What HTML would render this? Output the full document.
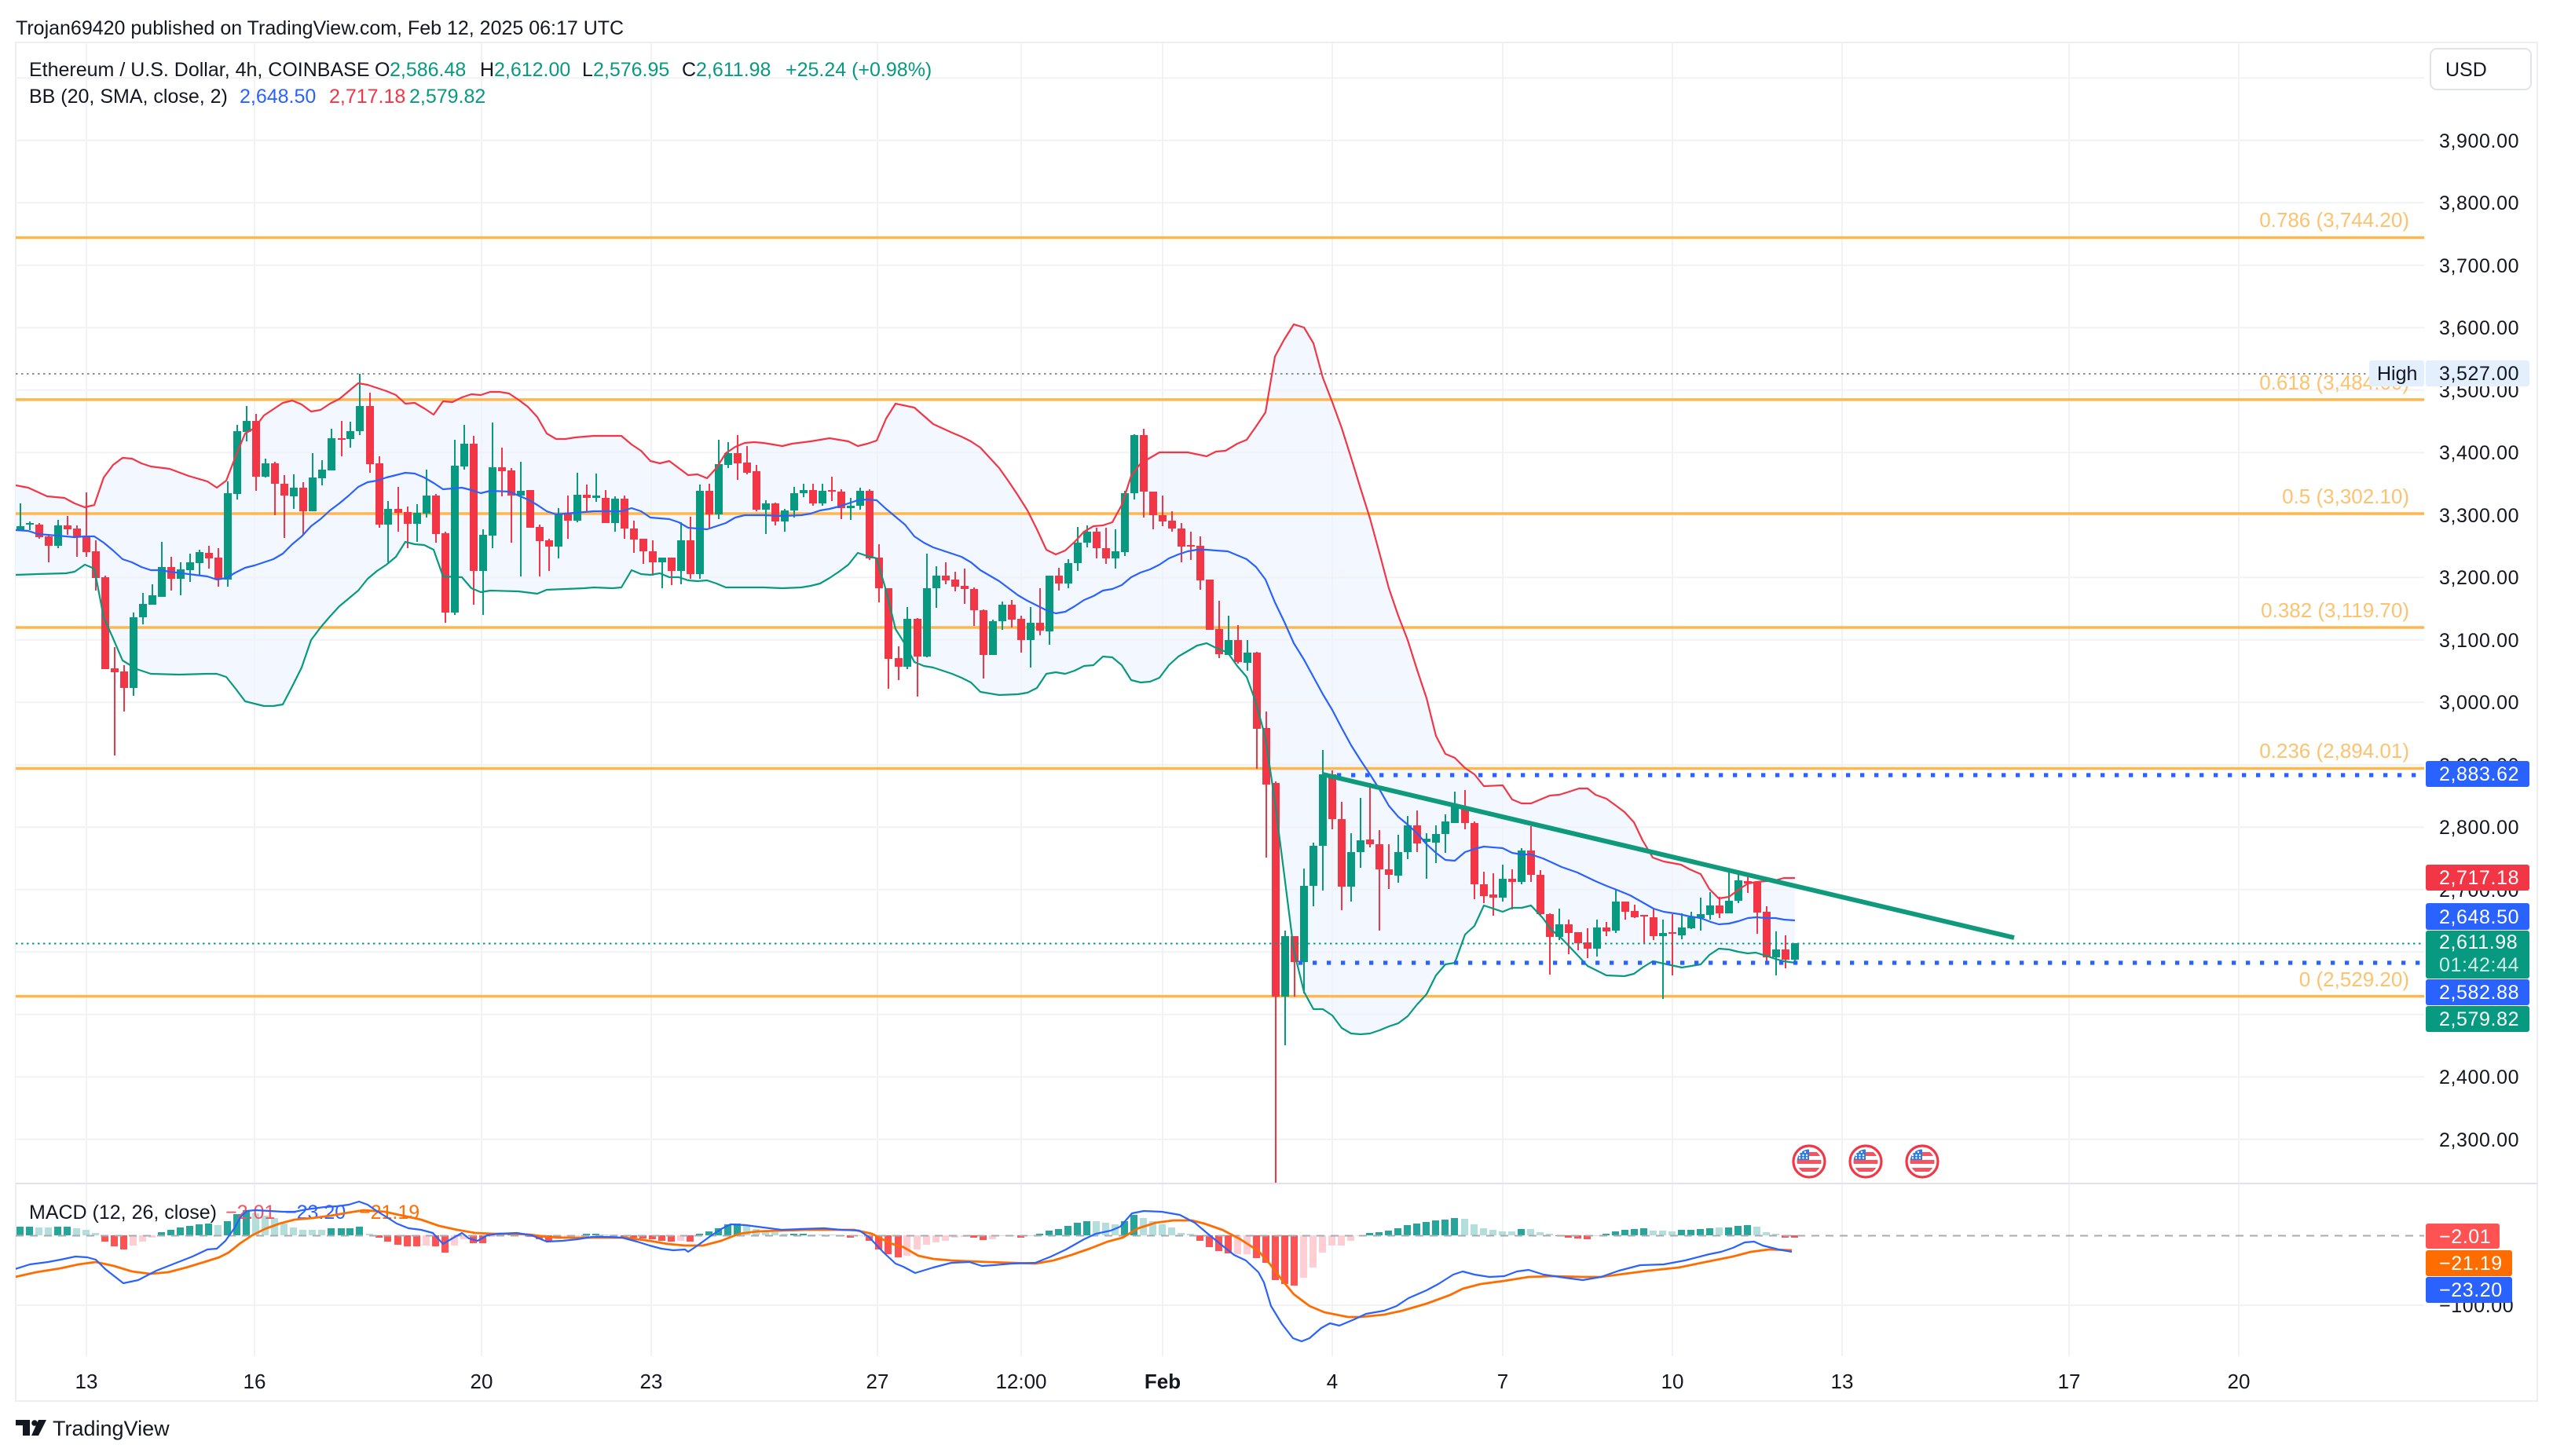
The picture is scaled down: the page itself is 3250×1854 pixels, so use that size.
<!DOCTYPE html>
<html><head><meta charset="utf-8"><style>
html,body{margin:0;padding:0;background:#fff}
svg{display:block}
text{font-family:"Liberation Sans",Arial,sans-serif}
</style></head><body>
<svg xmlns="http://www.w3.org/2000/svg" width="3250" height="1854" viewBox="0 0 3250 1854">
<defs>
<clipPath id="cm"><rect x="20" y="54" width="3066" height="1453"/></clipPath>
<clipPath id="cd"><rect x="20" y="1507" width="3066" height="220"/></clipPath>
<clipPath id="fc"><circle cx="0" cy="0" r="15.5"/></clipPath>
<g id="flag">
<circle cx="0" cy="0" r="20" fill="#fff" stroke="#f23645" stroke-width="3.2"/>
<g clip-path="url(#fc)">
<rect x="-16" y="-16" width="32" height="32" fill="#fff"/>
<rect x="-16" y="-12" width="32" height="5" fill="#f7525f"/>
<rect x="-16" y="-2" width="32" height="5" fill="#f7525f"/>
<rect x="-16" y="8" width="32" height="5" fill="#f7525f"/>
<rect x="-16" y="-16" width="16" height="14" fill="#2a7de1"/>
<g fill="#fff"><circle cx="-10" cy="-12" r="1.2"/><circle cx="-5" cy="-12" r="1.2"/><circle cx="-12" cy="-8" r="1.2"/><circle cx="-7.5" cy="-8" r="1.2"/><circle cx="-3" cy="-8" r="1.2"/><circle cx="-12" cy="-4.5" r="1.2"/><circle cx="-7.5" cy="-4.5" r="1.2"/><circle cx="-3" cy="-4.5" r="1.2"/></g>
</g>
</g>
</defs>
<rect width="3250" height="1854" fill="#fff"/>

<!-- header -->
<text x="20" y="44" font-size="25" fill="#131722">Trojan69420 published on TradingView.com, Feb 12, 2025 06:17 UTC</text>

<!-- frame -->
<rect x="20" y="54" width="3210" height="1730" fill="none" stroke="#eceef2" stroke-width="2"/>

<!-- main pane -->
<g clip-path="url(#cm)">
<polygon fill="#f3f7ff" points="20,618 36,621 60,632 82,634 95,641 108,646 120,643 132,608 144,592 156,583 168,584 180,590 192,594 216,597 240,606 264,613 276,621 288,612 300,581 312,552 324,545 336,529 348,521 360,513 372,510 384,515 396,524 408,522 420,514 432,508 444,498 456,488 468,490 480,494 492,498 504,503 516,514 528,513 540,520 552,528 564,511 576,512 588,506 600,502 612,503 624,499 636,499 648,501 660,509 672,518 684,531 696,552 708,559 720,559 732,557 744,556 756,555 768,555 791,555 804,566 816,574 828,587 840,590 852,587 864,596 876,605 888,604 900,609 912,596 924,577 936,569 948,564 960,563 972,564 996,568 1008,565 1032,562 1056,558 1080,562 1092,568 1104,565 1116,561 1128,533 1140,514 1164,519 1188,540 1212,551 1224,556 1236,562 1248,570 1260,583 1272,596 1284,613 1296,631 1308,650 1320,674 1332,700 1344,706 1356,701 1368,690 1380,677 1392,670 1404,669 1416,665 1428,643 1440,606 1452,590 1464,583 1476,576 1500,576 1512,576 1536,581 1548,575 1560,574 1575,565 1587,560 1599,543 1611,525 1623,454 1635,432 1647,413 1660,417 1672,437 1684,481 1696,512 1708,545 1720,583 1732,622 1744,660 1756,704 1768,749 1780,784 1792,815 1804,853 1816,889 1828,937 1840,960 1852,965 1865,978 1877,986 1889,1001 1913,1000 1925,1018 1937,1023 1949,1023 1961,1018 1973,1013 1985,1012 1998,1008 2010,1004 2021,1004 2031,1012 2045,1017 2056,1025 2068,1034 2080,1047 2091,1070 2104,1092 2118,1097 2140,1101 2151,1107 2165,1113 2176,1132 2188,1144 2201,1142 2213,1133 2225,1125 2236,1123 2248,1122 2260,1121 2271,1118 2285,1118 2285,1507 20,1507"/>
<polygon fill="#fff" points="20,732 48,731 84,730 95,728 108,719 120,724 132,786 144,813 156,841 174,852 192,858 228,859 264,858 276,858 288,862 300,877 312,893 336,899 348,899 360,897 372,874 384,850 396,815 408,799 420,785 432,772 444,762 456,752 468,737 480,727 492,719 504,709 516,690 528,693 540,694 552,700 564,734 588,735 600,749 612,754 624,752 660,753 684,756 696,751 720,750 744,749 756,748 780,749 791,748 804,726 816,731 828,732 840,730 852,735 864,735 876,739 888,740 900,739 912,743 924,748 948,748 972,748 996,749 1020,748 1032,746 1044,743 1056,736 1068,728 1080,719 1092,704 1104,708 1116,711 1128,752 1140,801 1152,820 1164,843 1176,848 1188,850 1212,858 1224,863 1236,869 1248,881 1272,885 1296,884 1308,882 1320,876 1332,858 1344,856 1356,858 1368,854 1380,848 1392,847 1404,836 1416,837 1428,847 1440,866 1452,869 1464,868 1476,863 1488,847 1500,836 1512,829 1524,822 1536,819 1548,825 1563,831 1575,848 1587,862 1599,895 1611,940 1623,1021 1635,1115 1647,1210 1660,1263 1672,1285 1684,1285 1696,1293 1708,1309 1720,1316 1732,1317 1744,1316 1756,1312 1768,1307 1780,1303 1792,1294 1804,1279 1816,1266 1828,1242 1840,1228 1852,1226 1865,1190 1877,1179 1889,1153 1913,1161 1925,1156 1937,1156 1949,1153 1964,1169 1975,1184 1988,1195 2008,1216 2021,1230 2045,1242 2068,1243 2080,1240 2091,1232 2104,1224 2118,1227 2141,1232 2165,1228 2176,1216 2188,1208 2201,1209 2213,1212 2225,1214 2235,1213 2248,1217 2260,1221 2271,1224 2285,1226 2285,1507 20,1507"/>

<!-- gridlines -->
<g stroke="#f0f2f6" stroke-width="2">
<path d="M20 99.2H3086M20 178.7H3086M20 258.2H3086M20 337.7H3086M20 417.2H3086M20 496.7H3086M20 576.2H3086M20 655.7H3086M20 735.2H3086M20 814.7H3086M20 894.2H3086M20 973.7H3086M20 1053.2H3086M20 1132.7H3086M20 1212.2H3086M20 1291.7H3086M20 1371.2H3086M20 1450.7H3086"/>
</g>
</g>
<g stroke="#f0f2f6" stroke-width="2">
<path d="M110 54V1727M324 54V1727M613 54V1727M829 54V1727M1117 54V1727M1300 54V1727M1480 54V1727M1696 54V1727M1913 54V1727M2129 54V1727M2345 54V1727M2634 54V1727M2850 54V1727"/>
<path d="M20 1662H3086"/>
</g>

<g clip-path="url(#cm)">
<!-- fib lines -->
<g stroke="#ffb74d" stroke-width="3.5">
<path d="M20 302.6H3086M20 508.9H3086M20 654H3086M20 799H3086M20 978.5H3086M20 1268.6H3086"/>
</g>
<g font-size="26" fill="#fcc36f" text-anchor="end">
<text x="3067" y="289">0.786 (3,744.20)</text>
<text x="3067" y="496">0.618 (3,484.60)</text>
<text x="3067" y="641">0.5 (3,302.10)</text>
<text x="3067" y="786">0.382 (3,119.70)</text>
<text x="3067" y="965">0.236 (2,894.01)</text>
<text x="3067" y="1256">0 (2,529.20)</text>
</g>
<!-- high dotted -->
<path d="M20 476H3016" stroke="#8a8d96" stroke-width="2" stroke-dasharray="2.5 4.5"/>

<!-- candles -->
<path stroke="#089981" stroke-width="2" fill="none" d="M26 641V675M38 664V675M74 662V698M170 780V886M182 755V795M194 744V770M206 690V760M230 716V758M242 705V741M254 700V733M290 613V747M302 541V636M314 517V562M338 584V608M374 604V648M398 577V651M410 586V618M422 546V599M446 537V570M458 476V554M494 638V716M531 642V690M543 598V659M579 560V783M591 541V598M615 674V783M627 538V698M663 588V734M711 647V711M735 602V665M759 603V639M783 632V677M843 710V749M867 665V744M891 617V737M915 560V661M927 563V596M975 637V680M999 648V677M1011 620V659M1023 616V633M1047 616V644M1083 634V662M1095 621V649M1155 773V852M1180 705V837M1192 721V774M1264 789V834M1276 766V802M1312 773V850M1336 733V821M1360 712V749M1372 671V727M1384 669V697M1420 674V724M1432 625V708M1444 553V636M1564 784V834M1588 815V854M1636 1185V1331M1660 1106V1265M1672 1073V1154M1684 955V1134M1720 1061V1148M1732 1016V1105M1780 1063V1124M1792 1039V1094M1816 1061V1119M1828 1051V1099M1840 1037V1086M1852 1008V1048M1913 1101V1148M1937 1080V1126M1985 1157V1197M2033 1171V1218M2057 1132V1188M2117 1171V1272M2141 1163V1196M2153 1161V1183M2165 1143V1185M2177 1136V1171M2201 1111V1163M2213 1113V1150M2261 1186V1242M2285 1201V1228"/>
<path fill="#089981" d="M21 670h10V675h-10zM33 666h10V668h-10zM69 669h10V695h-10zM165 786h10V876h-10zM177 769h10V786h-10zM189 758h10V770h-10zM201 722h10V760h-10zM225 725h10V737h-10zM237 716h10V726h-10zM249 703h10V717h-10zM285 628h10V738h-10zM297 549h10V629h-10zM309 536h10V550h-10zM333 590h10V607h-10zM369 621h10V632h-10zM393 608h10V651h-10zM405 598h10V609h-10zM417 558h10V599h-10zM441 549h10V559h-10zM453 517h10V549h-10zM489 648h10V668h-10zM526 653h10V667h-10zM538 631h10V654h-10zM574 593h10V780h-10zM586 565h10V594h-10zM610 681h10V727h-10zM622 595h10V682h-10zM658 625h10V631h-10zM706 654h10V696h-10zM730 630h10V663h-10zM754 631h10V634h-10zM778 635h10V666h-10zM838 710h10V716h-10zM862 688h10V727h-10zM886 625h10V731h-10zM910 591h10V655h-10zM922 577h10V592h-10zM970 641h10V649h-10zM994 650h10V664h-10zM1006 628h10V650h-10zM1018 624h10V628h-10zM1042 625h10V641h-10zM1078 644h10V647h-10zM1090 625h10V644h-10zM1150 788h10V849h-10zM1175 749h10V836h-10zM1187 733h10V749h-10zM1259 791h10V834h-10zM1271 770h10V791h-10zM1307 793h10V815h-10zM1331 733h10V804h-10zM1355 717h10V743h-10zM1367 691h10V717h-10zM1379 677h10V691h-10zM1415 702h10V711h-10zM1427 628h10V703h-10zM1439 554h10V628h-10zM1559 815h10V834h-10zM1583 831h10V844h-10zM1631 1192h10V1269h-10zM1655 1128h10V1225h-10zM1667 1077h10V1128h-10zM1679 986h10V1077h-10zM1715 1085h10V1129h-10zM1727 1070h10V1085h-10zM1775 1085h10V1115h-10zM1787 1051h10V1085h-10zM1811 1068h10V1072h-10zM1823 1062h10V1073h-10zM1835 1046h10V1062h-10zM1847 1024h10V1048h-10zM1908 1119h10V1143h-10zM1932 1083h10V1123h-10zM1980 1177h10V1193h-10zM2028 1181h10V1208h-10zM2052 1148h10V1185h-10zM2112 1188h10V1192h-10zM2136 1181h10V1191h-10zM2148 1168h10V1182h-10zM2160 1164h10V1169h-10zM2172 1153h10V1165h-10zM2196 1147h10V1163h-10zM2208 1121h10V1147h-10zM2256 1209h10V1219h-10zM2280 1201h10V1222h-10z"/>
<path stroke="#f23645" stroke-width="2" fill="none" d="M50 666V686M62 680V716M86 657V681M98 669V709M110 627V709M122 688V752M134 733V852M146 824V962M158 847V906M218 709V752M266 695V724M278 698V747M326 527V625M350 588V656M362 605V685M386 614V681M435 536V581M471 500V602M483 581V672M507 620V677M519 645V698M555 629V691M567 677V793M603 555V770M639 570V632M651 596V691M675 624V672M687 668V734M699 686V727M723 631V686M747 617V652M771 624V666M795 631V686M807 663V704M819 686V718M831 688V733M855 710V745M879 658V737M903 616V672M939 554V611M951 568V604M963 592V651M987 640V669M1035 616V644M1059 607V638M1071 623V661M1107 623V713M1119 693V767M1131 749V877M1144 823V866M1168 787V887M1204 716V744M1216 728V753M1228 724V769M1240 748V797M1252 776V864M1288 764V799M1300 784V831M1324 749V809M1348 723V752M1396 672V711M1408 672V718M1456 546V659M1468 626V674M1480 631V670M1492 651V677M1504 666V716M1516 677V713M1528 683V751M1540 738V802M1552 765V838M1576 796V845M1600 830V979M1612 906V1092M1624 995V1508M1648 1192V1269M1696 981V1056M1708 1021V1159M1744 997V1079M1756 1057V1185M1768 1075V1132M1804 1032V1085M1865 1006V1056M1877 1046V1145M1889 1110V1150M1901 1112V1166M1925 1107V1158M1949 1052V1123M1961 1108V1165M1973 1163V1241M1997 1171V1215M2009 1187V1210M2021 1182V1220M2045 1174V1192M2069 1148V1171M2081 1152V1169M2093 1165V1201M2105 1158V1197M2129 1164V1242M2189 1142V1169M2225 1114V1137M2237 1123V1189M2249 1154V1225M2273 1191V1233"/>
<path fill="#f23645" d="M45 668h10V684h-10zM57 683h10V695h-10zM81 669h10V674h-10zM93 673h10V684h-10zM105 683h10V703h-10zM117 702h10V736h-10zM129 735h10V852h-10zM141 851h10V856h-10zM153 855h10V876h-10zM213 722h10V737h-10zM261 704h10V711h-10zM273 710h10V738h-10zM321 536h10V607h-10zM345 590h10V616h-10zM357 616h10V631h-10zM381 621h10V651h-10zM430 558h10V560h-10zM466 517h10V591h-10zM478 590h10V668h-10zM502 648h10V653h-10zM514 652h10V667h-10zM550 631h10V680h-10zM562 679h10V780h-10zM598 565h10V727h-10zM634 595h10V600h-10zM646 599h10V631h-10zM670 624h10V672h-10zM682 671h10V689h-10zM694 688h10V696h-10zM718 654h10V663h-10zM742 630h10V634h-10zM766 634h10V666h-10zM790 635h10V673h-10zM802 673h10V687h-10zM814 686h10V702h-10zM826 702h10V716h-10zM850 710h10V727h-10zM874 688h10V731h-10zM898 625h10V655h-10zM934 577h10V590h-10zM946 589h10V602h-10zM958 600h10V649h-10zM982 641h10V664h-10zM1030 624h10V641h-10zM1054 624h10V626h-10zM1066 626h10V647h-10zM1102 625h10V711h-10zM1114 710h10V749h-10zM1126 749h10V839h-10zM1139 838h10V849h-10zM1163 788h10V836h-10zM1199 733h10V739h-10zM1211 738h10V747h-10zM1223 746h10V750h-10zM1235 750h10V777h-10zM1247 777h10V834h-10zM1283 770h10V789h-10zM1295 788h10V815h-10zM1319 793h10V803h-10zM1343 733h10V743h-10zM1391 677h10V698h-10zM1403 698h10V711h-10zM1451 554h10V626h-10zM1463 626h10V656h-10zM1475 656h10V664h-10zM1487 663h10V673h-10zM1499 673h10V696h-10zM1511 694h10V696h-10zM1523 695h10V739h-10zM1535 738h10V802h-10zM1547 801h10V833h-10zM1571 815h10V843h-10zM1595 831h10V928h-10zM1607 927h10V999h-10zM1619 997h10V1269h-10zM1643 1192h10V1225h-10zM1691 986h10V1043h-10zM1703 1043h10V1129h-10zM1739 1069h10V1075h-10zM1751 1075h10V1107h-10zM1763 1107h10V1114h-10zM1799 1051h10V1074h-10zM1860 1027h10V1048h-10zM1872 1048h10V1126h-10zM1884 1126h10V1141h-10zM1896 1139h10V1143h-10zM1920 1119h10V1123h-10zM1944 1083h10V1114h-10zM1956 1114h10V1164h-10zM1968 1164h10V1193h-10zM1992 1177h10V1188h-10zM2004 1187h10V1201h-10zM2016 1200h10V1208h-10zM2040 1181h10V1186h-10zM2064 1148h10V1161h-10zM2076 1160h10V1168h-10zM2088 1165h10V1167h-10zM2100 1168h10V1192h-10zM2124 1187h10V1189h-10zM2184 1153h10V1163h-10zM2220 1122h10V1125h-10zM2232 1123h10V1162h-10zM2244 1161h10V1219h-10zM2268 1209h10V1222h-10z"/>

<!-- BB lines -->
<g fill="none" stroke-width="2.2" stroke-linejoin="round">
<polyline stroke="#f23645" points="20,618 36,621 60,632 82,634 95,641 108,646 120,643 132,608 144,592 156,583 168,584 180,590 192,594 216,597 240,606 264,613 276,621 288,612 300,581 312,552 324,545 336,529 348,521 360,513 372,510 384,515 396,524 408,522 420,514 432,508 444,498 456,488 468,490 480,494 492,498 504,503 516,514 528,513 540,520 552,528 564,511 576,512 588,506 600,502 612,503 624,499 636,499 648,501 660,509 672,518 684,531 696,552 708,559 720,559 732,557 744,556 756,555 768,555 791,555 804,566 816,574 828,587 840,590 852,587 864,596 876,605 888,604 900,609 912,596 924,577 936,569 948,564 960,563 972,564 996,568 1008,565 1032,562 1056,558 1080,562 1092,568 1104,565 1116,561 1128,533 1140,514 1164,519 1188,540 1212,551 1224,556 1236,562 1248,570 1260,583 1272,596 1284,613 1296,631 1308,650 1320,674 1332,700 1344,706 1356,701 1368,690 1380,677 1392,670 1404,669 1416,665 1428,643 1440,606 1452,590 1464,583 1476,576 1500,576 1512,576 1536,581 1548,575 1560,574 1575,565 1587,560 1599,543 1611,525 1623,454 1635,432 1647,413 1660,417 1672,437 1684,481 1696,512 1708,545 1720,583 1732,622 1744,660 1756,704 1768,749 1780,784 1792,815 1804,853 1816,889 1828,937 1840,960 1852,965 1865,978 1877,986 1889,1001 1913,1000 1925,1018 1937,1023 1949,1023 1961,1018 1973,1013 1985,1012 1998,1008 2010,1004 2021,1004 2031,1012 2045,1017 2056,1025 2068,1034 2080,1047 2091,1070 2104,1092 2118,1097 2140,1101 2151,1107 2165,1113 2176,1132 2188,1144 2201,1142 2213,1133 2225,1125 2236,1123 2248,1122 2260,1121 2271,1118 2285,1118"/>
<polyline stroke="#2962ff" points="20,675 36,676 48,680 60,681 84,683 95,684 108,683 120,683 132,691 144,701 156,712 168,716 180,722 192,726 204,726 216,728 240,731 264,734 276,738 288,736 300,729 312,723 324,720 336,716 348,712 360,705 372,693 384,683 396,670 408,661 420,650 432,641 444,631 456,620 468,614 480,612 492,608 504,605 516,602 528,603 540,608 552,615 564,623 588,621 600,624 612,628 624,625 648,626 660,631 672,636 684,643 696,651 708,655 732,653 756,651 791,651 804,647 816,651 828,659 852,661 864,665 876,672 900,674 912,670 924,666 936,659 948,656 972,656 996,657 1020,656 1032,654 1044,650 1056,648 1068,645 1080,641 1092,637 1104,636 1116,637 1128,648 1140,658 1152,668 1164,683 1176,691 1188,697 1212,705 1224,709 1236,716 1248,726 1260,733 1272,740 1284,749 1296,758 1308,765 1320,771 1332,777 1344,781 1356,779 1368,772 1380,764 1392,759 1404,752 1416,750 1428,745 1440,735 1452,729 1464,725 1476,719 1488,711 1500,706 1512,702 1524,700 1536,700 1548,701 1563,702 1587,712 1599,722 1611,738 1623,767 1635,792 1647,819 1660,840 1672,862 1684,884 1696,904 1708,927 1720,949 1732,968 1744,986 1756,1005 1768,1026 1780,1040 1792,1050 1804,1061 1816,1075 1828,1086 1840,1095 1852,1096 1865,1085 1877,1081 1889,1078 1913,1080 1925,1086 1937,1088 1949,1088 1964,1093 1975,1098 1988,1104 2008,1111 2031,1122 2045,1128 2058,1133 2075,1140 2091,1149 2105,1157 2118,1161 2138,1164 2151,1167 2165,1169 2178,1174 2188,1177 2201,1176 2213,1173 2225,1169 2236,1168 2248,1169 2260,1169 2271,1171 2285,1172"/>
<polyline stroke="#089981" points="20,732 48,731 84,730 95,728 108,719 120,724 132,786 144,813 156,841 174,852 192,858 228,859 264,858 276,858 288,862 300,877 312,893 336,899 348,899 360,897 372,874 384,850 396,815 408,799 420,785 432,772 444,762 456,752 468,737 480,727 492,719 504,709 516,690 528,693 540,694 552,700 564,734 588,735 600,749 612,754 624,752 660,753 684,756 696,751 720,750 744,749 756,748 780,749 791,748 804,726 816,731 828,732 840,730 852,735 864,735 876,739 888,740 900,739 912,743 924,748 948,748 972,748 996,749 1020,748 1032,746 1044,743 1056,736 1068,728 1080,719 1092,704 1104,708 1116,711 1128,752 1140,801 1152,820 1164,843 1176,848 1188,850 1212,858 1224,863 1236,869 1248,881 1272,885 1296,884 1308,882 1320,876 1332,858 1344,856 1356,858 1368,854 1380,848 1392,847 1404,836 1416,837 1428,847 1440,866 1452,869 1464,868 1476,863 1488,847 1500,836 1512,829 1524,822 1536,819 1548,825 1563,831 1575,848 1587,862 1599,895 1611,940 1623,1021 1635,1115 1647,1210 1660,1263 1672,1285 1684,1285 1696,1293 1708,1309 1720,1316 1732,1317 1744,1316 1756,1312 1768,1307 1780,1303 1792,1294 1804,1279 1816,1266 1828,1242 1840,1228 1852,1226 1865,1190 1877,1179 1889,1153 1913,1161 1925,1156 1937,1156 1949,1153 1964,1169 1975,1184 1988,1195 2008,1216 2021,1230 2045,1242 2068,1243 2080,1240 2091,1232 2104,1224 2118,1227 2141,1232 2165,1228 2176,1216 2188,1208 2201,1209 2213,1212 2225,1214 2235,1213 2248,1217 2260,1221 2271,1224 2285,1226"/>
</g>

<!-- price lines -->
<path d="M20 1201.5H3086" stroke="#089981" stroke-width="2" stroke-dasharray="2.5 4.5"/>
<path d="M1702 987H3086" stroke="#2962ff" stroke-width="5.3" stroke-dasharray="5.3 12.7"/>
<path d="M1653 1226H3086" stroke="#2962ff" stroke-width="5.3" stroke-dasharray="5.3 12.7"/>
<!-- trend line -->
<path d="M1684 986L2564 1194" stroke="#0f9a7d" stroke-width="6" stroke-linecap="butt"/>
<!-- flags -->
<use href="#flag" x="2303" y="1479"/>
<use href="#flag" x="2375" y="1479"/>
<use href="#flag" x="2447" y="1479"/>
</g>

<!-- pane separator -->
<path d="M20 1507H3230" stroke="#e0e3eb" stroke-width="2"/>

<!-- MACD pane -->
<g clip-path="url(#cd)">
<path fill="#26a69a" d="M21 1562h9V1573h-9zM33 1562h9V1573h-9zM69 1562h9V1573h-9zM81 1562h9V1573h-9zM201 1569h9V1573h-9zM213 1566h9V1573h-9zM225 1563h9V1573h-9zM237 1561h9V1573h-9zM249 1559h9V1573h-9zM261 1558h9V1573h-9zM285 1555h9V1573h-9zM297 1546h9V1573h-9zM309 1541h9V1573h-9zM417 1564h9V1573h-9zM430 1564h9V1573h-9zM441 1564h9V1573h-9zM453 1562h9V1573h-9zM646 1571h9V1573h-9zM742 1571h9V1573h-9zM754 1571h9V1573h-9zM886 1571h9V1573h-9zM898 1568h9V1573h-9zM910 1564h9V1573h-9zM922 1559h9V1573h-9zM934 1558h9V1573h-9zM1006 1571h9V1573h-9zM1018 1571h9V1573h-9zM1319 1571h9V1573h-9zM1331 1567h9V1573h-9zM1343 1565h9V1573h-9zM1355 1561h9V1573h-9zM1367 1557h9V1573h-9zM1379 1555h9V1573h-9zM1427 1555h9V1573h-9zM1439 1547h9V1573h-9zM1739 1570h9V1573h-9zM1751 1569h9V1573h-9zM1763 1567h9V1573h-9zM1775 1564h9V1573h-9zM1787 1560h9V1573h-9zM1799 1558h9V1573h-9zM1811 1556h9V1573h-9zM1823 1554h9V1573h-9zM1835 1553h9V1573h-9zM1847 1551h9V1573h-9zM1932 1565h9V1573h-9zM2040 1571h9V1573h-9zM2052 1568h9V1573h-9zM2064 1566h9V1573h-9zM2076 1565h9V1573h-9zM2088 1564h9V1573h-9zM2136 1566h9V1573h-9zM2148 1566h9V1573h-9zM2160 1565h9V1573h-9zM2172 1564h9V1573h-9zM2196 1563h9V1573h-9zM2208 1561h9V1573h-9zM2220 1560h9V1573h-9z"/>
<path fill="#b2dfdb" d="M45 1563h9V1573h-9zM57 1563h9V1573h-9zM93 1564h9V1573h-9zM105 1566h9V1573h-9zM117 1570h9V1573h-9zM273 1560h9V1573h-9zM321 1545h9V1573h-9zM333 1548h9V1573h-9zM345 1551h9V1573h-9zM357 1558h9V1573h-9zM369 1563h9V1573h-9zM381 1566h9V1573h-9zM393 1566h9V1573h-9zM405 1566h9V1573h-9zM466 1571h9V1573h-9zM634 1571h9V1573h-9zM658 1571h9V1573h-9zM766 1572h9V1573h-9zM778 1572h9V1573h-9zM946 1560h9V1573h-9zM958 1565h9V1573h-9zM970 1567h9V1573h-9zM982 1569h9V1573h-9zM994 1571h9V1573h-9zM1030 1572h9V1573h-9zM1042 1572h9V1573h-9zM1054 1572h9V1573h-9zM1391 1555h9V1573h-9zM1403 1557h9V1573h-9zM1415 1559h9V1573h-9zM1451 1551h9V1573h-9zM1463 1555h9V1573h-9zM1475 1559h9V1573h-9zM1487 1563h9V1573h-9zM1499 1570h9V1573h-9zM1511 1571h9V1573h-9zM1860 1552h9V1573h-9zM1872 1559h9V1573h-9zM1884 1564h9V1573h-9zM1896 1566h9V1573h-9zM1908 1568h9V1573h-9zM1920 1568h9V1573h-9zM1944 1565h9V1573h-9zM1956 1569h9V1573h-9zM1968 1571h9V1573h-9zM2100 1567h9V1573h-9zM2112 1567h9V1573h-9zM2124 1568h9V1573h-9zM2184 1563h9V1573h-9zM2232 1562h9V1573h-9zM2244 1569h9V1573h-9zM2256 1571h9V1573h-9z"/>
<path fill="#ff5252" d="M129 1573h9V1581h-9zM141 1573h9V1587h-9zM153 1573h9V1591h-9zM478 1573h9V1576h-9zM489 1573h9V1581h-9zM502 1573h9V1585h-9zM514 1573h9V1587h-9zM526 1573h9V1587h-9zM550 1573h9V1587h-9zM562 1573h9V1595h-9zM598 1573h9V1583h-9zM610 1573h9V1583h-9zM670 1573h9V1575h-9zM682 1573h9V1578h-9zM694 1573h9V1580h-9zM790 1573h9V1575h-9zM802 1573h9V1576h-9zM814 1573h9V1577h-9zM826 1573h9V1578h-9zM838 1573h9V1580h-9zM850 1573h9V1581h-9zM874 1573h9V1581h-9zM1066 1573h9V1574h-9zM1078 1573h9V1576h-9zM1102 1573h9V1580h-9zM1114 1573h9V1591h-9zM1126 1573h9V1597h-9zM1139 1573h9V1601h-9zM1235 1573h9V1576h-9zM1247 1573h9V1579h-9zM1295 1573h9V1576h-9zM1523 1573h9V1580h-9zM1535 1573h9V1588h-9zM1547 1573h9V1593h-9zM1559 1573h9V1596h-9zM1595 1573h9V1602h-9zM1607 1573h9V1608h-9zM1619 1573h9V1630h-9zM1631 1573h9V1635h-9zM1643 1573h9V1637h-9zM1980 1573h9V1574h-9zM1992 1573h9V1576h-9zM2004 1573h9V1577h-9zM2016 1573h9V1578h-9zM2268 1573h9V1576h-9zM2280 1573h9V1576h-9z"/>
<path fill="#ffcdd2" d="M165 1573h9V1586h-9zM177 1573h9V1581h-9zM189 1573h9V1576h-9zM538 1573h9V1586h-9zM574 1573h9V1586h-9zM586 1573h9V1578h-9zM622 1573h9V1575h-9zM706 1573h9V1578h-9zM718 1573h9V1576h-9zM730 1573h9V1574h-9zM862 1573h9V1580h-9zM1090 1573h9V1574h-9zM1150 1573h9V1599h-9zM1163 1573h9V1591h-9zM1175 1573h9V1585h-9zM1187 1573h9V1582h-9zM1199 1573h9V1580h-9zM1211 1573h9V1576h-9zM1223 1573h9V1575h-9zM1259 1573h9V1578h-9zM1271 1573h9V1574h-9zM1283 1573h9V1574h-9zM1307 1573h9V1574h-9zM1571 1573h9V1597h-9zM1583 1573h9V1597h-9zM1655 1573h9V1627h-9zM1667 1573h9V1614h-9zM1679 1573h9V1595h-9zM1691 1573h9V1586h-9zM1703 1573h9V1586h-9zM1715 1573h9V1580h-9zM1727 1573h9V1574h-9zM2028 1573h9V1574h-9z"/>
<path d="M20 1573.5H3086" stroke="#a8abb3" stroke-width="2" stroke-dasharray="10 8"/>
<text x="37" y="1552" font-size="25" fill="#131722">MACD (12, 26, close)</text>
<text x="287" y="1552" font-size="25" fill="#f7525f">−2.01</text>
<text x="363" y="1552" font-size="25" fill="#2962ff">−23.20</text>
<text x="457" y="1552" font-size="25" fill="#ff6d00">−21.19</text>
<polyline fill="none" stroke="#ff6d00" stroke-width="2.8" stroke-linejoin="round" points="19,1626 46,1620 77,1615 100,1610 122,1607 145,1612 168,1619 191,1622 214,1620 237,1614 260,1607 279,1601 291,1595 306,1583 321,1573 337,1565 356,1558 375,1553 398,1551 421,1548 444,1544 463,1541 490,1543 513,1548 536,1553 559,1561 582,1566 605,1570 628,1571 651,1571 674,1572 696,1575 719,1576 742,1576 765,1576 796,1576 827,1580 850,1584 872,1586 895,1586 918,1580 941,1571 964,1568 995,1567 1026,1566 1056,1566 1087,1566 1110,1571 1133,1583 1150,1588 1169,1599 1188,1603 1211,1605 1234,1606 1257,1607 1288,1608 1318,1609 1341,1605 1364,1598 1387,1590 1410,1581 1429,1576 1449,1564 1471,1557 1494,1554 1517,1554 1533,1558 1556,1566 1579,1578 1602,1593 1617,1610 1632,1630 1647,1648 1667,1663 1686,1671 1716,1677 1732,1677 1762,1674 1785,1669 1816,1660 1846,1649 1862,1641 1885,1635 1915,1631 1946,1626 1977,1625 2015,1626 2038,1626 2068,1622 2099,1618 2137,1614 2176,1606 2206,1600 2229,1594 2252,1591 2281,1592"/>
<polyline fill="none" stroke="#2962ff" stroke-width="2.2" stroke-linejoin="round" points="19,1616 38,1610 61,1607 77,1604 96,1600 111,1601 122,1604 134,1616 157,1634 176,1630 199,1618 222,1609 245,1600 264,1591 276,1590 287,1580 299,1563 306,1550 314,1542 325,1541 344,1542 360,1543 375,1543 390,1540 413,1537 429,1536 444,1534 457,1530 468,1534 478,1541 494,1551 505,1558 520,1564 536,1566 551,1570 564,1584 574,1578 588,1570 597,1577 608,1580 620,1573 635,1571 658,1570 677,1573 696,1581 716,1580 735,1578 754,1575 773,1575 792,1576 811,1581 827,1586 842,1590 857,1592 872,1591 876,1594 888,1586 903,1575 918,1565 930,1559 949,1560 972,1563 995,1566 1018,1565 1049,1564 1071,1566 1094,1567 1106,1575 1125,1595 1140,1609 1150,1613 1165,1621 1188,1614 1211,1608 1234,1607 1250,1612 1265,1611 1288,1609 1318,1608 1338,1600 1357,1591 1380,1578 1395,1571 1414,1567 1426,1562 1441,1545 1456,1542 1479,1543 1502,1547 1521,1557 1540,1573 1556,1586 1571,1598 1586,1605 1602,1620 1609,1633 1618,1663 1632,1686 1646,1704 1657,1708 1667,1704 1682,1691 1693,1685 1705,1688 1724,1680 1739,1673 1762,1669 1778,1663 1793,1653 1816,1643 1831,1635 1850,1623 1862,1619 1877,1623 1896,1626 1915,1625 1931,1619 1946,1617 1965,1623 1992,1627 2015,1630 2038,1626 2061,1618 2088,1611 2118,1610 2145,1605 2176,1597 2191,1594 2206,1589 2221,1582 2233,1581 2244,1586 2264,1591 2281,1594"/>
</g>

<!-- legend -->
<text x="37" y="97" font-size="25" fill="#131722">Ethereum / U.S. Dollar, 4h, COINBASE</text>
<g font-size="25">
<text x="477" y="97" fill="#131722">O</text><text x="496" y="97" fill="#089981">2,586.48</text>
<text x="611" y="97" fill="#131722">H</text><text x="629" y="97" fill="#089981">2,612.00</text>
<text x="741" y="97" fill="#131722">L</text><text x="755" y="97" fill="#089981">2,576.95</text>
<text x="868" y="97" fill="#131722">C</text><text x="886" y="97" fill="#089981">2,611.98</text>
<text x="1000" y="97" fill="#089981">+25.24 (+0.98%)</text>
<text x="37" y="131" fill="#131722">BB (20, SMA, close, 2)</text>
<text x="305" y="131" fill="#2962ff">2,648.50</text>
<text x="419" y="131" fill="#f23645">2,717.18</text>
<text x="521" y="131" fill="#089981">2,579.82</text>
</g>

<!-- price axis -->
<rect x="3094" y="62" width="128" height="52" rx="8" fill="#fff" stroke="#e0e3eb" stroke-width="2"/>
<text x="3113" y="97" font-size="25" fill="#131722">USD</text>
<g font-size="25" fill="#131722" letter-spacing="0.6">
<text x="3105" y="188">3,900.00</text>
<text x="3105" y="267">3,800.00</text>
<text x="3105" y="347">3,700.00</text>
<text x="3105" y="426">3,600.00</text>
<text x="3105" y="506">3,500.00</text>
<text x="3105" y="585">3,400.00</text>
<text x="3105" y="665">3,300.00</text>
<text x="3105" y="744">3,200.00</text>
<text x="3105" y="824">3,100.00</text>
<text x="3105" y="903">3,000.00</text>
<text x="3105" y="983">2,900.00</text>
<text x="3105" y="1062">2,800.00</text>
<text x="3105" y="1142">2,700.00</text>
<text x="3105" y="1221">2,600.00</text>
<text x="3105" y="1301">2,500.00</text>
<text x="3105" y="1380">2,400.00</text>
<text x="3105" y="1460">2,300.00</text>
<text x="3105" y="1671">−100.00</text>
</g>
<!-- high label -->
<rect x="3016" y="459" width="70" height="33" rx="3" fill="#e3effd"/>
<rect x="3088" y="459" width="132" height="33" rx="3" fill="#e3effd"/>
<text x="3026" y="484" font-size="25" fill="#131722">High</text>
<text x="3105" y="484" font-size="25" fill="#131722" letter-spacing="0.6">3,527.00</text>
<!-- colored labels -->
<rect x="3088" y="969" width="132" height="33" rx="3" fill="#2962ff"/>
<rect x="3088" y="1101" width="132" height="33" rx="3" fill="#f23645"/>
<rect x="3088" y="1150" width="132" height="34" rx="3" fill="#2962ff"/>
<rect x="3088" y="1185" width="132" height="61" rx="3" fill="#089981"/>
<rect x="3088" y="1247" width="132" height="33" rx="3" fill="#2962ff"/>
<rect x="3088" y="1281" width="132" height="33" rx="3" fill="#089981"/>
<rect x="3088" y="1558" width="94" height="32" rx="3" fill="#ff5252"/>
<rect x="3088" y="1592" width="110" height="33" rx="3" fill="#ff6d00"/>
<rect x="3088" y="1626" width="110" height="33" rx="3" fill="#2962ff"/>
<g font-size="25" fill="#fff" letter-spacing="0.6">
<text x="3105" y="994">2,883.62</text>
<text x="3105" y="1126">2,717.18</text>
<text x="3105" y="1176">2,648.50</text>
<text x="3105" y="1208">2,611.98</text>
<text x="3105" y="1237" fill-opacity="0.8">01:42:44</text>
<text x="3105" y="1272">2,582.88</text>
<text x="3105" y="1306">2,579.82</text>
<text x="3105" y="1583">−2.01</text>
<text x="3105" y="1617">−21.19</text>
<text x="3105" y="1651">−23.20</text>
</g>

<!-- time axis -->
<g font-size="26" fill="#131722" text-anchor="middle">
<text x="110" y="1768">13</text>
<text x="324" y="1768">16</text>
<text x="613" y="1768">20</text>
<text x="829" y="1768">23</text>
<text x="1117" y="1768">27</text>
<text x="1300" y="1768">12:00</text>
<text x="1480" y="1768" font-weight="bold">Feb</text>
<text x="1696" y="1768">4</text>
<text x="1913" y="1768">7</text>
<text x="2129" y="1768">10</text>
<text x="2345" y="1768">13</text>
<text x="2634" y="1768">17</text>
<text x="2850" y="1768">20</text>
</g>

<!-- TradingView logo -->
<g fill="#131722">
<path d="M20 1808H38V1828H29V1815H20Z"/>
<circle cx="44" cy="1812" r="3.8"/>
<path d="M49 1808H59L49 1828H40Z"/>
</g>
<text x="67" y="1828" font-size="27" fill="#131722">TradingView</text>
</svg>
</body></html>
